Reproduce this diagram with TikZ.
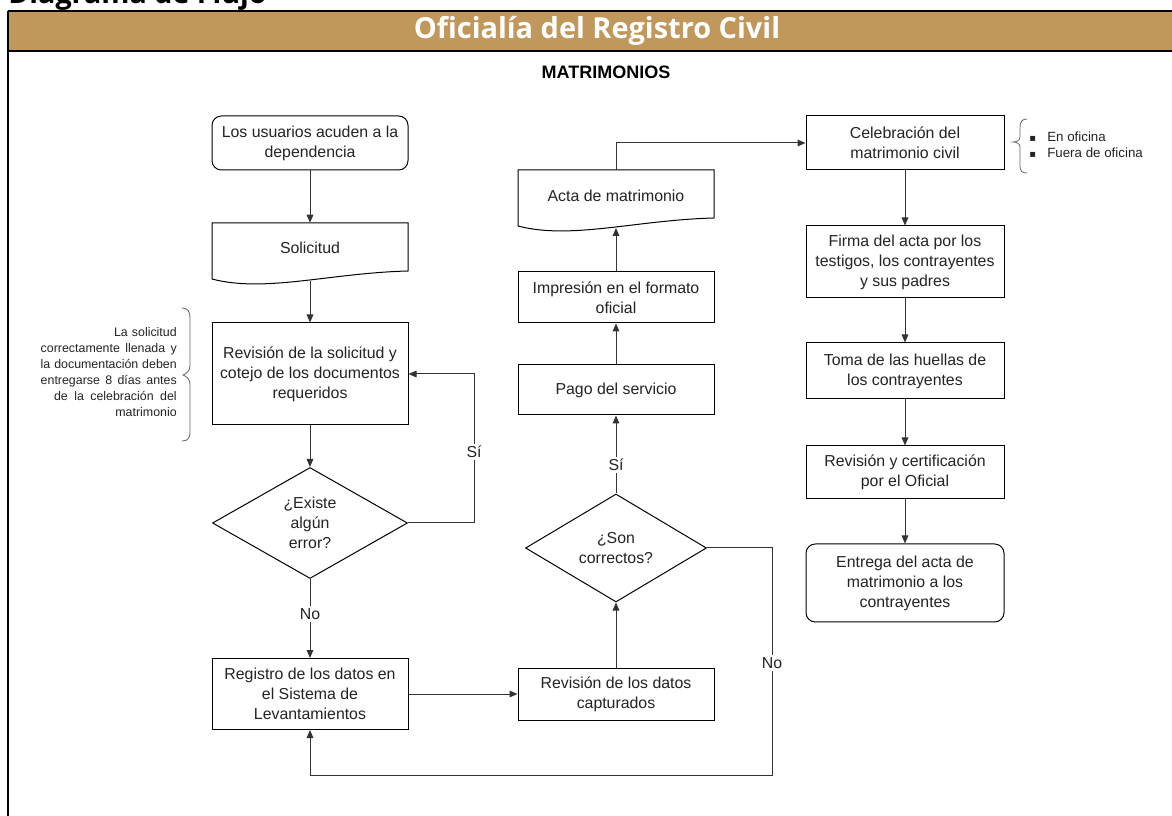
\documentclass[tikz,border=0pt]{standalone}
\usepackage{fontspec}
\setmainfont{Liberation Sans}
\newfontfamily\headfont{Open Sans}
\newfontfamily\symfont{DejaVu Sans}
\usetikzlibrary{shapes.geometric,arrows.meta,calc}
\definecolor{gold}{RGB}{193,152,92}
\definecolor{ink}{RGB}{35,35,35}
\begin{document}
\begin{tikzpicture}[x=0.75pt,y=-0.75pt,
  every node/.style={text=ink, font=\fontsize{11.9}{15}\selectfont},
  proc/.style={draw=black, line width=0.75pt, align=center, minimum width=147pt, inner sep=2pt},
  proc3/.style={proc, minimum width=148.5pt},
  term/.style={proc, rounded corners=7pt},
  doctext/.style={align=center, minimum width=147pt, inner sep=0pt},
  docline/.style={draw=black, line width=0.75pt},
  dec/.style={diamond, draw=black, line width=0.75pt, align=center, inner sep=0pt, aspect=1.75},
  arr/.style={draw=black!80, line width=0.75pt, -{Triangle[length=6pt,width=5pt]}},
  lbl/.style={fill=white, inner sep=1.5pt},
  brace/.style={draw=black!60, line width=0.6pt},
  note/.style={font=\fontsize{9.3}{12}\selectfont}]
\useasboundingbox (0,0) rectangle (1172,816);

% title and header
\node[anchor=base west, inner sep=0pt, text=black, font=\headfont\bfseries\fontsize{21.5}{24}\selectfont] (title) at (8,4) {Diagrama de Flujo};
\fill[gold] (8,11) rectangle (1172,51);
\draw[line width=1.5pt] (8,11) -- (1172,11);
\draw[line width=1.2pt] (8,51) -- (1172,51);
\draw[line width=1.5pt] (8,11) -- (8,816);
\node[text=white, font=\headfont\bfseries\fontsize{21.7}{24}\selectfont] (head) at (597,31) {Oficialía del Registro Civil};
\node[text=black, font=\bfseries\fontsize{13.5}{16}\selectfont] (mat) at (606,72) {MATRIMONIOS};

% column 1
\node[term, minimum height=40.5pt] (n1) at (310,143) {Los usuarios acuden a la\\dependencia};
\node[doctext, minimum height=37.5pt] (n2) at (310,248) {Solicitud};
\draw[docline] (212,223) -- (408,223) -- (408,271) .. controls (330,273) and (265,293) .. (212,279) -- cycle;
\coordinate (n2b) at (310,281);
\node[proc, minimum height=76.5pt] (n3) at (310,374) {Revisión de la solicitud y\\cotejo de los documentos\\requeridos};
\node[dec, minimum width=146.25pt, minimum height=83.25pt] (d1) at (310,523) {¿Existe\\algún\\error?};
\node[proc, minimum height=53.25pt] (n4) at (310,694) {Registro de los datos en\\el Sistema de\\Levantamientos};

% column 2
\node[proc, minimum height=39pt] (n5) at (616,694) {Revisión de los datos\\capturados};
\node[dec, minimum width=135.75pt, minimum height=81pt] (d2) at (616,548) {¿Son\\correctos?};
\node[proc, minimum height=37.5pt] (n6) at (616,390) {Pago del servicio};
\node[proc, minimum height=38.25pt] (n7) at (616,297.5) {Impresión en el formato\\oficial};
\node[doctext, minimum height=39pt] (n8) at (616,196) {Acta de matrimonio};
\draw[docline] (518,170) -- (714,170) -- (714,218) .. controls (636,220) and (571,240) .. (518,226) -- cycle;
\coordinate (n8b) at (616,228);

% column 3
\node[proc3, minimum height=40.5pt] (n9) at (905,143) {Celebración del\\matrimonio civil};
\node[proc3, minimum height=54pt] (n10) at (905,262) {Firma del acta por los\\testigos, los contrayentes\\y sus padres};
\node[proc3, minimum height=42pt] (n11) at (905,371) {Toma de las huellas de\\los contrayentes};
\node[proc3, minimum height=39.75pt] (n12) at (905,472.5) {Revisión y certificación\\por el Oficial};
\node[proc3, rounded corners=7pt, minimum height=58.5pt] (n13) at (905,583) {Entrega del acta de\\matrimonio a los\\contrayentes};

% annotations
\node[note, anchor=east, text width=102pt, align=right, inner sep=0pt] (noteL) at (177,372) {%
\makebox[\linewidth][r]{La solicitud}\\
\makebox[\linewidth][s]{correctamente\hfill llenada\hfill y}\\
\makebox[\linewidth][s]{la\hfill documentación\hfill deben}\\
\makebox[\linewidth][s]{entregarse\hfill 8\hfill días\hfill antes}\\
\makebox[\linewidth][s]{\hspace{10pt}de\hfill la\hfill celebración\hfill del}\\
\makebox[\linewidth][r]{matrimonio}};
\draw[brace] (182,308) .. controls (188,308) and (190,312) .. (190,318) -- (190,366) .. controls (190,371) and (186,374) .. (183,375) .. controls (186,376) and (190,379) .. (190,384) -- (190,432) .. controls (190,438) and (188,441) .. (182,441);

\node[anchor=west, align=left, inner sep=0pt, font=\fontsize{10}{12}\selectfont] (noteR) at (1029,145) {%
\makebox[13.5pt][l]{\symfont\fontsize{7.5}{9}\selectfont ▪}En oficina\\
\makebox[13.5pt][l]{\symfont\fontsize{7.5}{9}\selectfont ▪}Fuera de oficina};
\draw[brace] (1027,119) .. controls (1022,119) and (1020,122) .. (1020,127) -- (1020,137) .. controls (1020,140) and (1017,142) .. (1013,142) .. controls (1017,142) and (1020,144) .. (1020,147) -- (1020,166) .. controls (1020,171) and (1022,173) .. (1027,173);

% connectors
\draw[arr] (n1) -- (n2);
\draw[arr] (n2b) -- (n3);
\draw[arr] (n3) -- (d1);
\coordinate (c1) at (474,523);
\draw[arr] (d1.east) -- (c1) |- (n3.east);
\node[lbl] (lsi1) at (474,452) {Sí};
\draw[arr] (d1) -- (n4);
\node[lbl] (lno1) at (310,614) {No};
\draw[arr] (n4.east) -- (n5.west);
\draw[arr] (n5) -- (d2);
\draw[arr] (d2) -- (n6);
\node[lbl] (lsi2) at (616,465) {Sí};
\draw[arr] (n6) -- (n7);
\draw[arr] (n7) -- (n8b);
\draw[arr] (n8.north) |- (n9.west);
\coordinate (c2) at (772,548);
\coordinate (c3) at (772,775);
\draw[arr] (d2.east) -- (c2) -- (c3) -| (n4.south);
\node[lbl] (lno2) at (772,663) {No};
\draw[arr] (n9) -- (n10);
\draw[arr] (n10) -- (n11);
\draw[arr] (n11) -- (n12);
\draw[arr] (n12) -- (n13);
\end{tikzpicture}
\end{document}
